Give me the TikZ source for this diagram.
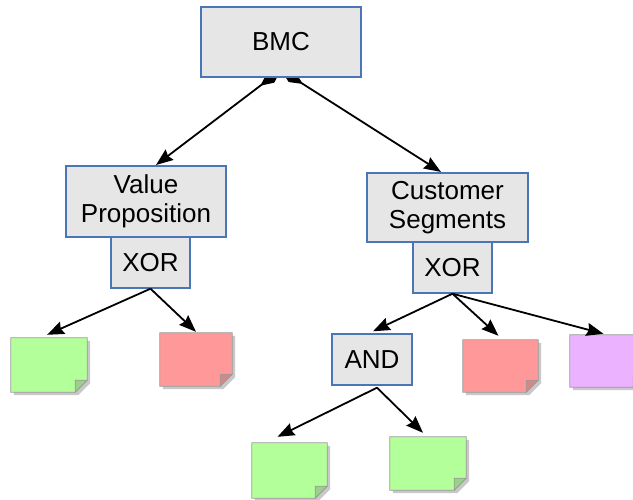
\documentclass[tikz,border=0pt]{standalone}
\usepackage{fontspec}
\setmainfont{Liberation Sans}
\usetikzlibrary{arrows.meta}
\definecolor{boxblue}{HTML}{4A76B5}
\definecolor{boxgray}{HTML}{E6E6E6}
\definecolor{notegreen}{HTML}{B3FF99}
\definecolor{notered}{HTML}{FF9999}
\definecolor{notepurple}{HTML}{EBB3FF}
\definecolor{noteedge}{HTML}{9A9A9A}
\definecolor{noteshadow}{HTML}{C8C8C8}
\tikzset{
  gatebox/.style={draw=boxblue, line width=1.4pt, fill=boxgray, inner sep=0pt,
    align=center, font=\fontsize{26}{29}\selectfont},
  link/.style={draw=black, line width=1.8pt, -{Stealth[length=17pt,width=13pt,inset=2pt]}},
  composition/.style={draw=black, line width=1.8pt,
    {Diamond[length=26pt,width=12pt]}-{Stealth[length=17pt,width=13pt,inset=2pt]}},
}
% sticky note with a shadow and a folded bottom-right corner
\newcommand\stickynote[2]{%
  \fill[noteshadow] ([xshift=3pt,yshift=-3pt]#1.north west) -- ([xshift=3pt,yshift=-3pt]#1.north east)
    -- ([xshift=3pt,yshift=9pt]#1.south east) -- ([xshift=-9pt,yshift=-3pt]#1.south east)
    -- ([xshift=3pt,yshift=-3pt]#1.south west) -- cycle;
  \filldraw[fill=#2, draw=noteedge, line width=0.8pt] (#1.north west) -- (#1.north east)
    -- ([yshift=12pt]#1.south east) -- ([xshift=-12pt]#1.south east) -- (#1.south west) -- cycle;
  \filldraw[fill=#2!80!black!90, draw=noteedge, line width=0.8pt]
    ([yshift=12pt]#1.south east) -- ([xshift=-12pt,yshift=12pt]#1.south east)
    -- ([xshift=-12pt]#1.south east) -- cycle;
}
\begin{document}
\begin{tikzpicture}[x=1pt, y=-1pt]
\useasboundingbox (0,0) rectangle (633,500);
\clip (0,0) rectangle (633,500);

% sticky notes (leaves)
\node[inner sep=0pt, minimum width=76pt, minimum height=54pt] (g1) at (49,365) {};
\node[inner sep=0pt, minimum width=72pt, minimum height=53pt] (r1) at (196,359.5) {};
\node[inner sep=0pt, minimum width=75pt, minimum height=52pt] (r2) at (500.5,366) {};
\node[inner sep=0pt, minimum width=75pt, minimum height=52pt] (p1) at (607.5,361) {};
\node[inner sep=0pt, minimum width=75pt, minimum height=55pt] (g2) at (289.5,470.5) {};
\node[inner sep=0pt, minimum width=76pt, minimum height=53pt] (g3) at (428,463.5) {};
\stickynote{g1}{notegreen}
\stickynote{r1}{notered}
\stickynote{r2}{notered}
\stickynote{p1}{notepurple}
\stickynote{g2}{notegreen}
\stickynote{g3}{notegreen}

% coordinates for the links
\coordinate (root) at (281,70);
\coordinate (vptop) at (156,165);
\coordinate (cstop) at (441,172);

% composition links from the root (drawn beneath the root box)
\draw[composition] (root) -- (vptop);
\draw[composition] (root) -- (cstop);

% gate boxes
\node[gatebox, minimum width=160pt, minimum height=70pt] (bmc) at (281,42) {BMC};
\node[gatebox, minimum width=160pt, minimum height=71pt] (vp) at (146,201.5) {Value\\Proposition};
\node[gatebox, minimum width=79pt, minimum height=51pt] (xor1) at (150.5,262.5) {XOR};
\node[gatebox, minimum width=161pt, minimum height=69pt] (cs) at (447.5,207.5) {Customer\\Segments};
\node[gatebox, minimum width=79pt, minimum height=51pt] (xor2) at (452.5,267.5) {XOR};
\node[gatebox, minimum width=80pt, minimum height=51pt] (and) at (372,359.5) {AND};

% links out of the gates
\draw[link] (xor1.south) -- ([xshift=-2pt,yshift=3pt]g1.north);
\draw[link] (xor1.south) -- ([yshift=1pt]r1.north);
\draw[link] (xor2.south) -- ([xshift=1pt,yshift=2pt]and.north);
\draw[link] (xor2.south) -- ([xshift=-2pt,yshift=4pt]r2.north);
\draw[link] (xor2.south) -- ([xshift=-4pt,yshift=1pt]p1.north);
\draw[link] ([xshift=5pt,yshift=-2pt]and.south) -- ([xshift=-12pt,yshift=6pt]g2.north);
\draw[link] ([xshift=5pt,yshift=-2pt]and.south) -- ([xshift=-5pt,yshift=4pt]g3.north);
\end{tikzpicture}
\end{document}
